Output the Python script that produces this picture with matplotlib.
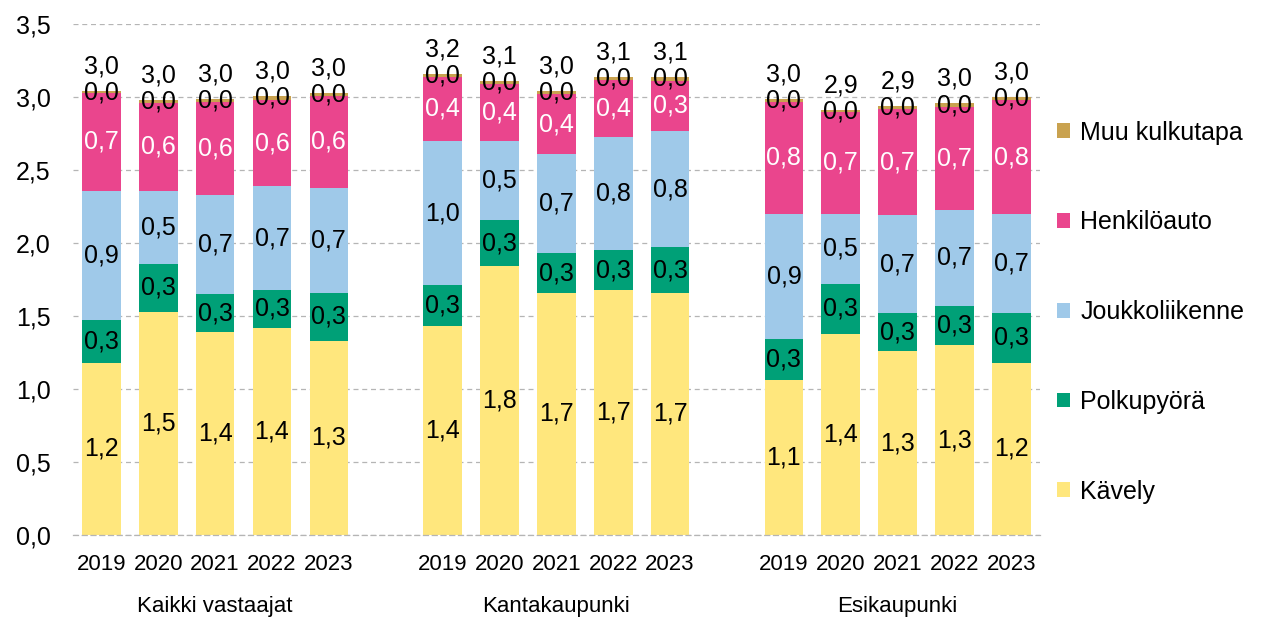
import matplotlib.pyplot as plt
from matplotlib.patches import Patch

plt.rcParams['font.family'] = ['Liberation Sans', 'DejaVu Sans']

# Groups and years
GROUPS = ["Kaikki vastaajat", "Kantakaupunki", "Esikaupunki"]
YEARS = ["2019", "2020", "2021", "2022", "2023"]

# Values per mode, 15 bars (3 groups x 5 years)
KAVELY = [1.18, 1.53, 1.39, 1.42, 1.33,
          1.43, 1.84, 1.66, 1.68, 1.66,
          1.06, 1.38, 1.26, 1.30, 1.18]
POLKUPYORA = [0.29, 0.33, 0.26, 0.26, 0.33,
              0.28, 0.32, 0.27, 0.27, 0.31,
              0.28, 0.34, 0.26, 0.27, 0.34]
JOUKKOLIIKENNE = [0.89, 0.50, 0.68, 0.71, 0.72,
                  0.99, 0.54, 0.68, 0.78, 0.80,
                  0.86, 0.48, 0.67, 0.66, 0.68]
HENKILOAUTO = [0.67, 0.60, 0.64, 0.59, 0.63,
               0.44, 0.39, 0.41, 0.39, 0.34,
               0.77, 0.70, 0.73, 0.70, 0.78]
MUU = [0.01, 0.02, 0.02, 0.03, 0.02,
       0.02, 0.02, 0.02, 0.02, 0.03,
       0.02, 0.01, 0.02, 0.03, 0.02]

SERIES = [
    ("Kävely", KAVELY, "#FFE77D", "black"),
    ("Polkupyörä", POLKUPYORA, "#00A077", "black"),
    ("Joukkoliikenne", JOUKKOLIIKENNE, "#9FC9E9", "black"),
    ("Henkilöauto", HENKILOAUTO, "#EA458D", "white"),
    ("Muu kulkutapa", MUU, "#C9A24F", "black"),
]


def fmt(v):
    return f"{v:.1f}".replace(".", ",")


fig = plt.figure(figsize=(12.79, 6.21), dpi=100)
ax = fig.add_axes([0.057, 0.1385, 0.756, 0.8225])

# bar positions: 5 bars per group, one empty slot between groups
xs = [g * 6 + i for g in range(len(GROUPS)) for i in range(len(YEARS))]
width = 0.68

bottoms = [0.0] * len(xs)
for name, vals, color, tcolor in SERIES:
    ax.bar(xs, vals, width, bottom=bottoms, color=color, zorder=2)
    for x, b, v in zip(xs, bottoms, vals):
        ax.text(x, b + v / 2, fmt(v), ha="center", va="center",
                fontsize=18, color=tcolor, zorder=3)
    bottoms = [b + v for b, v in zip(bottoms, vals)]

# totals above the bars
for x, t in zip(xs, bottoms):
    ax.annotate(fmt(t), (x, t), xytext=(0, 9), textcoords="offset points",
                ha="center", va="bottom", fontsize=18, zorder=3)

ax.set_xlim(-0.5, 16.5)
ax.set_ylim(0, 3.5)
ax.set_yticks([0, 0.5, 1.0, 1.5, 2.0, 2.5, 3.0, 3.5])
ax.set_yticklabels([fmt(v) for v in ax.get_yticks()], fontsize=18)
ax.set_xticks(xs)
ax.set_xticklabels(YEARS * len(GROUPS), fontsize=16)
ax.tick_params(length=0)
ax.tick_params(axis="x", pad=14)
ax.tick_params(axis="y", pad=16)

ax.grid(axis="y", color="#B5B5B5", linestyle=(0, (4, 3)), linewidth=0.9, zorder=0)
for s in ["left", "right", "top"]:
    ax.spines[s].set_visible(False)
ax.spines["bottom"].set_color("#B5B5B5")
ax.spines["bottom"].set_linestyle((0, (4, 3)))
ax.spines["bottom"].set_linewidth(0.9)

for g, label in enumerate(GROUPS):
    ax.text(g * 6 + 2, -0.49, label, ha="center", va="center", fontsize=16,
            transform=ax.transData)

handles = [Patch(facecolor=c, label=n) for n, _, c, _ in reversed(SERIES)]
fig.legend(handles=handles, loc="upper left", bbox_to_anchor=(0.809, 0.842),
           frameon=False, fontsize=18, labelspacing=2.63,
           handlelength=0.52, handleheight=0.52, handletextpad=0.4)

fig.savefig("out.png", dpi=100)
